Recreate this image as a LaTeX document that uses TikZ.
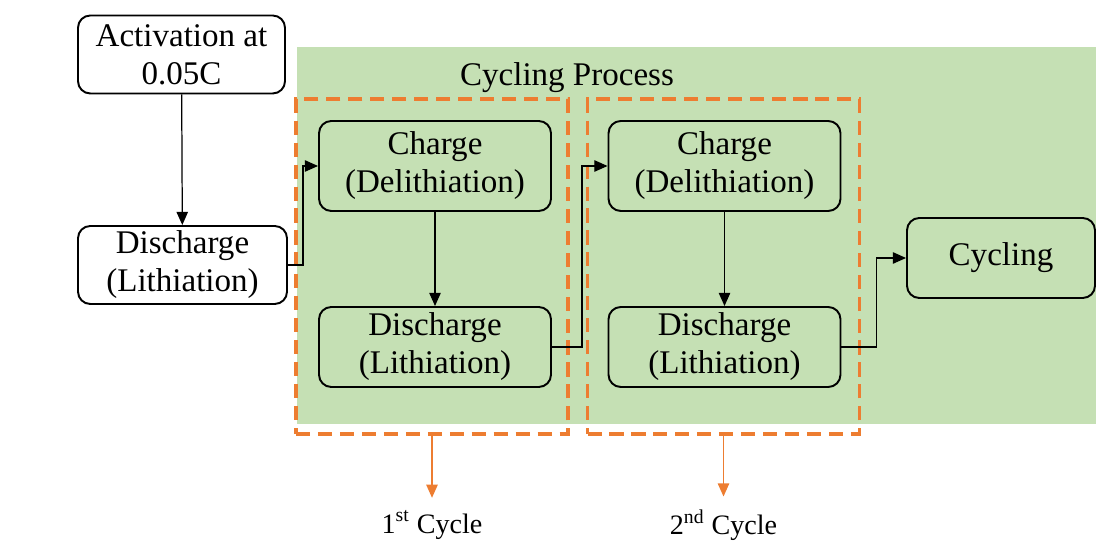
\documentclass[tikz,border=0pt]{standalone}
\usepackage{fontspec}
\setmainfont{Liberation Serif}
\usepackage{tikz}
\usetikzlibrary{arrows.meta,positioning,calc}

\definecolor{procgreen}{RGB}{197,224,180}
\definecolor{cycorange}{RGB}{237,125,49}

\begin{document}
\begin{tikzpicture}[
  >={Triangle[length=7.5pt,width=6.5pt]},
  box/.style={draw=black, line width=1.1pt, rounded corners=7pt, align=center,
    minimum width=4.64cm, minimum height=1.6cm, inner sep=2pt,
    font=\fontsize{18.8}{21.6}\selectfont},
  box/.default=white,
  flow/.style={->, line width=0.7pt, draw=black},
  cycbox/.style={draw=cycorange, line width=2pt, dash pattern=on 8pt off 4.5pt,
    minimum width=5.44cm, minimum height=6.7cm, inner sep=0pt},
  oflow/.style={->, line width=0.8pt, draw=cycorange, fill=cycorange},
  lab/.style={font=\fontsize{16}{19}\selectfont, inner sep=1pt},
]
\useasboundingbox (0,0) rectangle (21.92,10.8);
% cycling process area
\node[fill=procgreen, minimum width=15.98cm, minimum height=7.54cm, inner sep=0pt,
  anchor=north west] (proc) at (5.94,9.86) {};
\node[font=\fontsize{18.8}{21.6}\selectfont] (proctitle) at (11.34,9.24) {Cycling Process};

% activation
\node[box, fill=white, minimum width=4.14cm, minimum height=1.56cm] (act) at (3.63,9.71) {Activation at\\0.05C};
\node[box, fill=white, minimum width=4.18cm, minimum height=1.56cm] (dis0) at (3.65,5.5) {Discharge\\(Lithiation)};

% cycles
\node[cycbox] (cyc1) at (8.64,5.47) {};
\node[cycbox] (cyc2) at (14.47,5.47) {};
\node[box, fill=procgreen, minimum height=1.8cm] (chg1) at (8.7,7.48) {Charge\\(Delithiation)};
\node[box, fill=procgreen] (dis1) at (8.7,3.86) {Discharge\\(Lithiation)};
\node[box, fill=procgreen, minimum height=1.8cm] (chg2) at (14.49,7.48) {Charge\\(Delithiation)};
\node[box, fill=procgreen] (dis2) at (14.49,3.86) {Discharge\\(Lithiation)};
\node[box, fill=procgreen, minimum width=3.76cm] (cyc) at (20.02,5.64) {Cycling};

\draw[flow] (act) -- (dis0);
\draw[flow] (dis0.east) -- ++(0.3,0) |- (chg1.west);
\draw[flow] (chg1) -- (dis1);
\draw[flow] (dis1.east) -- ++(0.6,0) |- (chg2.west);
\draw[flow] (chg2) -- (dis2);
\draw[flow] (dis2.east) -- ++(0.7,0) |- (cyc.west);

% cycle labels
\node[lab] (lab1) at (8.64,0.3) {1\textsuperscript{st} Cycle};
\node[lab] (lab2) at (14.47,0.3) {2\textsuperscript{nd} Cycle};
\draw[oflow, shorten >=0.22cm] (cyc1.south) -- (lab1.north);
\draw[oflow, shorten >=0.22cm] (cyc2.south) -- (lab2.north);
\end{tikzpicture}
\end{document}
